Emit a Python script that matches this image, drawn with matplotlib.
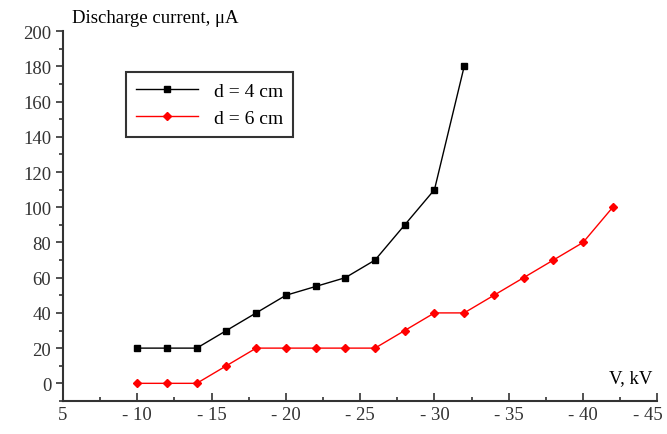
import matplotlib.pyplot as plt
import matplotlib.transforms as mtransforms
from matplotlib.ticker import MultipleLocator

plt.rcParams['font.family'] = ['Liberation Serif', 'DejaVu Serif']

# data
v_4cm = [-10, -12, -14, -16, -18, -20, -22, -24, -26, -28, -30, -32]
i_4cm = [20, 20, 20, 30, 40, 50, 55, 60, 70, 90, 110, 180]
v_6cm = [-10, -12, -14, -16, -18, -20, -22, -24, -26, -28, -30, -32, -34, -36, -38, -40, -42]
i_6cm = [0, 0, 0, 10, 20, 20, 20, 20, 20, 30, 40, 40, 50, 60, 70, 80, 100]
x_ticks = [-5, -10, -15, -20, -25, -30, -35, -40, -45]
x_labels = ['5', '- 10', '- 15', '- 20', '- 25', '- 30', '- 35', '- 40', '- 45']
y_ticks = list(range(0, 201, 20))

fig = plt.figure(figsize=(6.67, 4.35), dpi=100)
ax = fig.add_axes([0.0945, 0.076, 0.891, 0.85])

ax.plot(v_4cm, i_4cm, color='black', lw=1, marker='s', ms=5, label='d = 4 cm')
ax.plot(v_6cm, i_6cm, color='red', lw=1, marker='D', ms=4.5, label='d = 6 cm')

ax.set_xlim(-5, -45)
ax.set_ylim(-10, 200)
ax.set_xticks(x_ticks)
ax.set_xticklabels(x_labels)
ax.set_yticks(y_ticks)
ax.xaxis.set_minor_locator(MultipleLocator(2.5))
ax.yaxis.set_minor_locator(MultipleLocator(10))
ax.tick_params(which='major', direction='out', length=5, width=1.2, labelsize=13.5, colors='#333333')
ax.tick_params(which='minor', direction='out', length=3, width=1.2, colors='#333333')
ax.tick_params(axis='x', which='both', direction='in')
ax.tick_params(axis='x', which='major', length=6)
for s in ['top', 'right']:
    ax.spines[s].set_visible(False)
for s in ['left', 'bottom']:
    ax.spines[s].set_linewidth(1.5)
    ax.spines[s].set_color('#333333')

# keep the last x label inside the figure
last = ax.get_xticklabels()[-1]
last.set_transform(last.get_transform() + mtransforms.ScaledTranslation(-9 / 100, 0, fig.dpi_scale_trans))

fig.text(0.108, 0.958, 'Discharge current, μA', fontsize=13.5, va='center')
ax.text(0.955, 0.05, 'V, kV', transform=ax.transAxes, fontsize=13.5, ha='center')

leg = ax.legend(loc='upper left', bbox_to_anchor=(0.09, 0.915), fontsize=14,
                fancybox=False, framealpha=1, edgecolor='#333333', handlelength=3.2,
                borderpad=0.5, labelspacing=0.5)
leg.get_frame().set_linewidth(1.5)

fig.savefig('out.png', dpi=100)
